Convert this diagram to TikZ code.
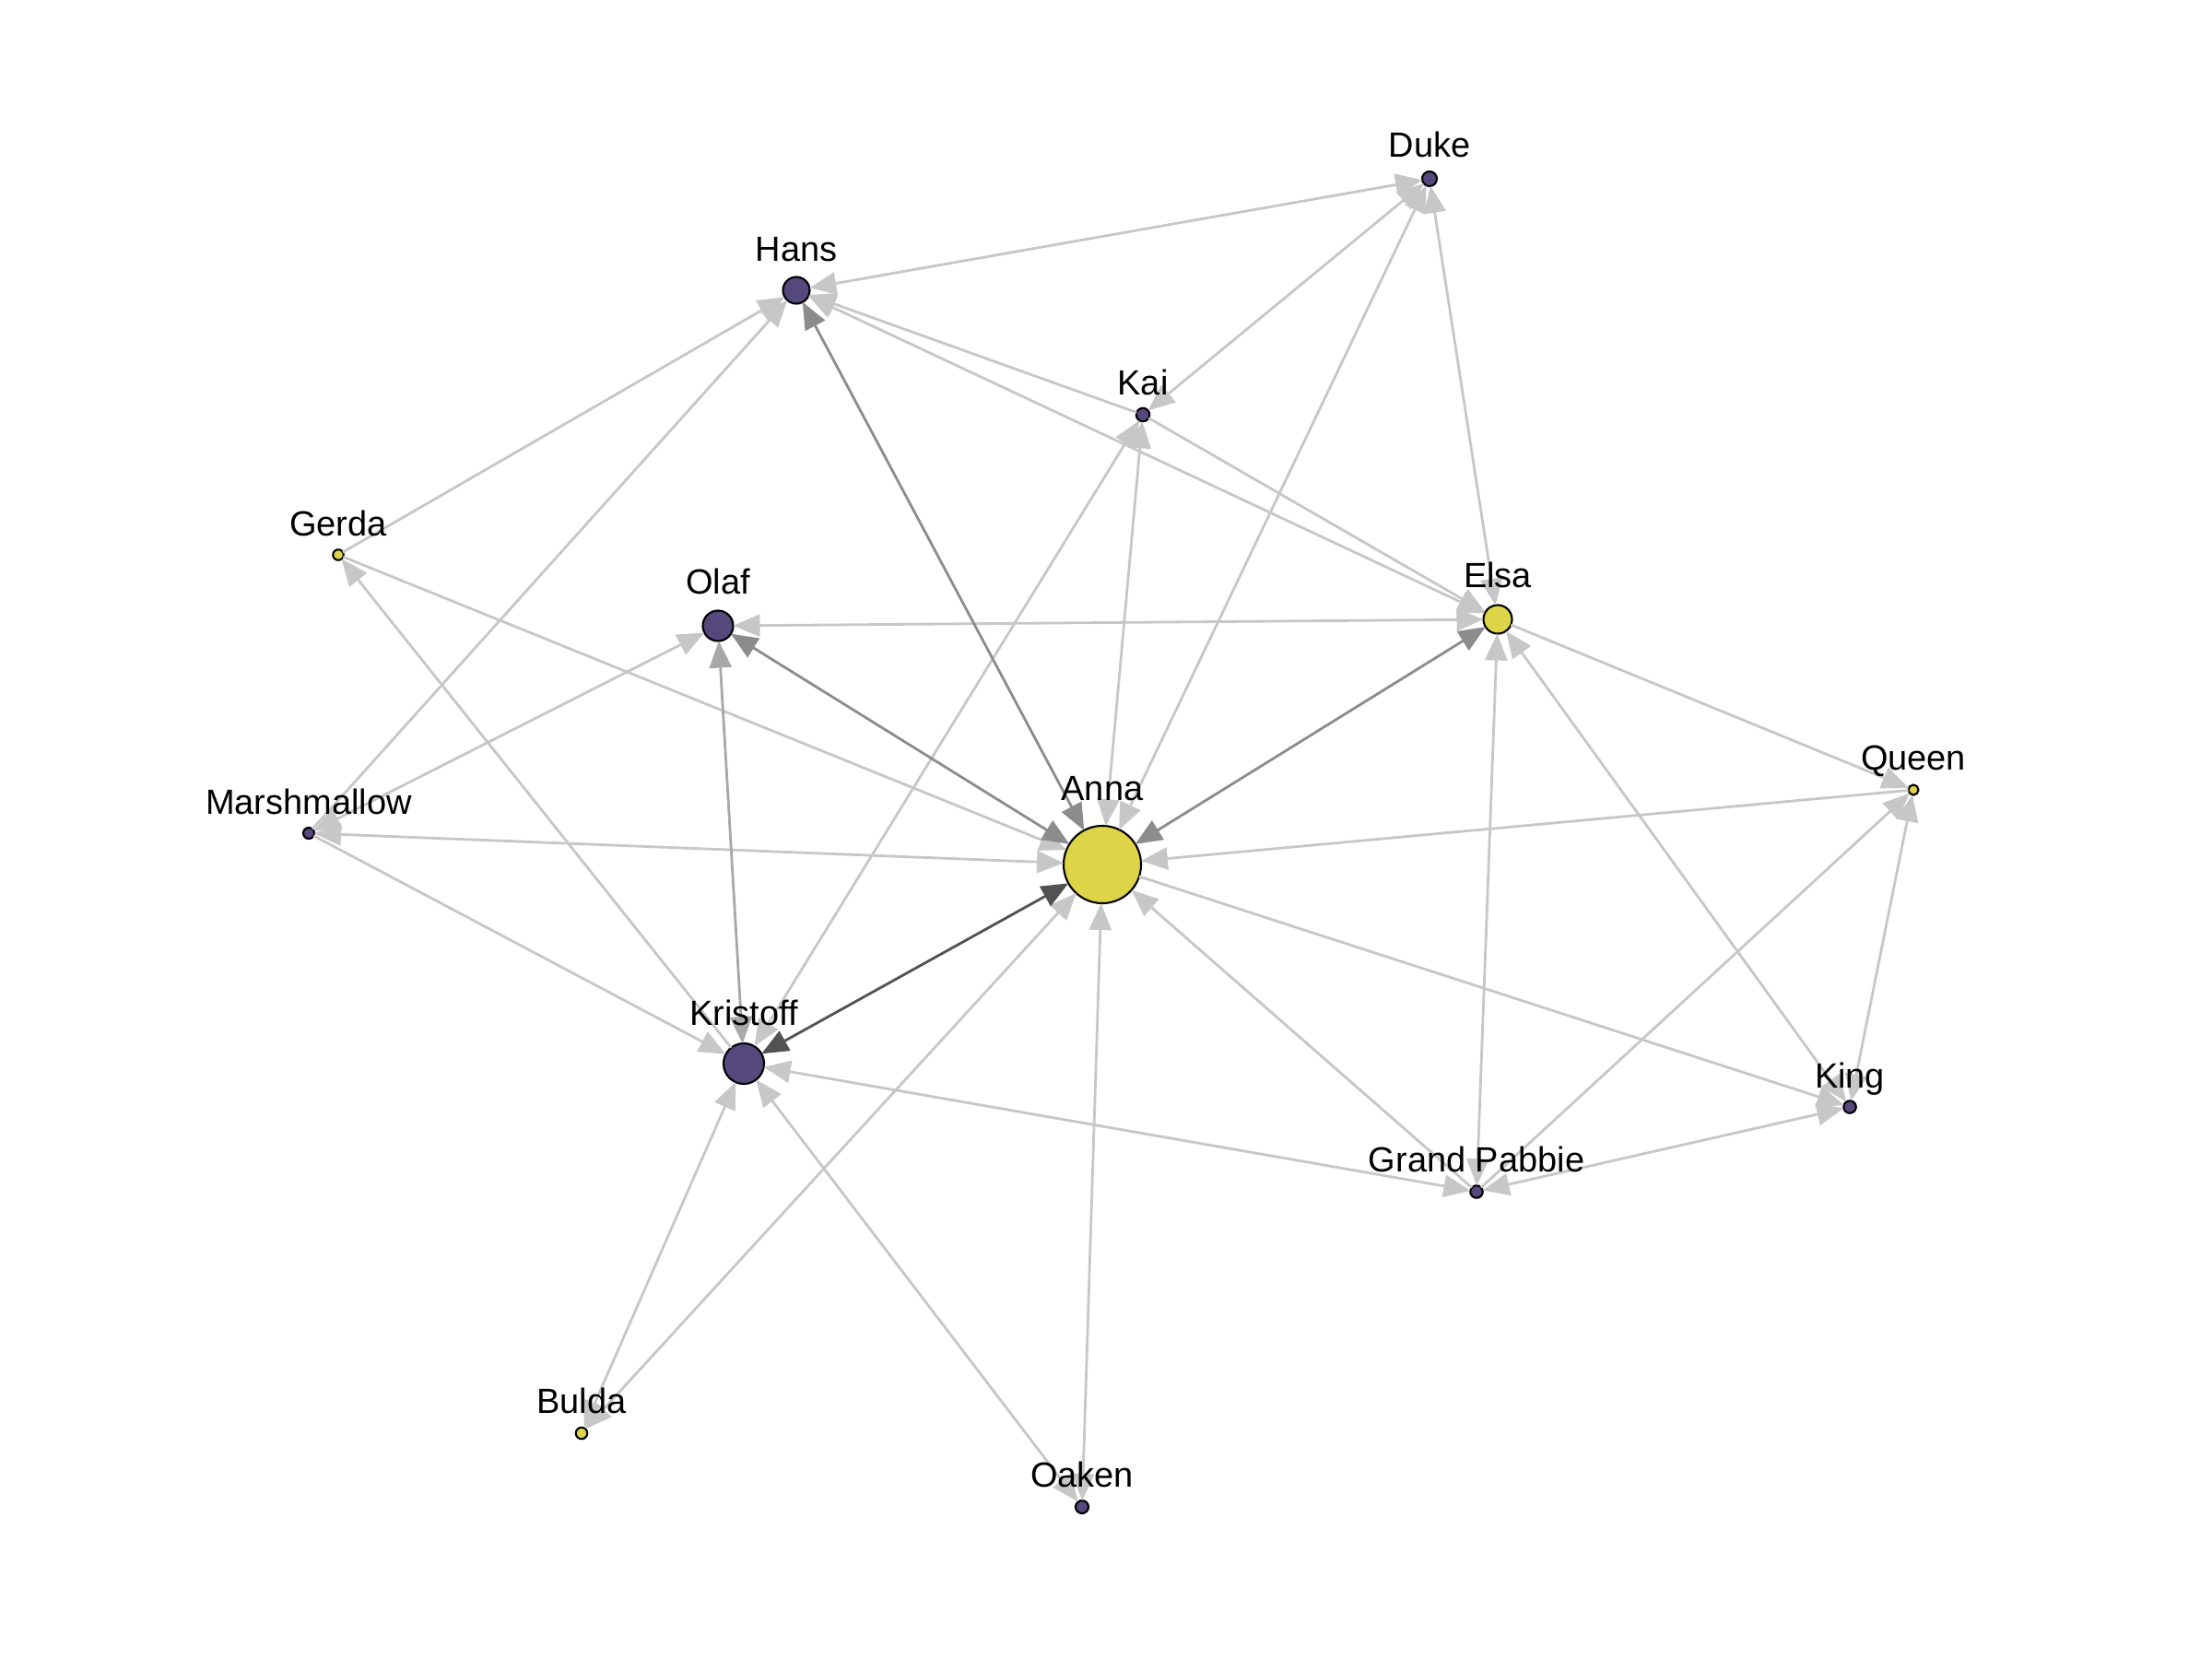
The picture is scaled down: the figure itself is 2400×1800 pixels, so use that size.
\documentclass[tikz,border=0pt]{standalone}
\usepackage{fontspec}
\setmainfont{Liberation Sans}
\usepackage{xcolor}
\usepackage{tikz}
\usetikzlibrary{arrows.meta}
\definecolor{vpurple}{RGB}{85,72,125}
\definecolor{vyellow}{RGB}{222,212,72}
\tikzstyle{char}=[draw=black,circle,line width=0.6pt,inner sep=0,outer sep=0]
\tikzstyle{pur}=[char,fill=vpurple]
\tikzstyle{yel}=[char,fill=vyellow]
\tikzstyle{lbl}=[anchor=base,inner sep=0,font=\fontsize{10.8}{13}\selectfont]
\tikzstyle{tie}=[draw,line width=0.8pt,black!22]
\tikzstyle{tieM}=[tie,black!34]
\tikzstyle{tieD}=[tie,black!45]
\tikzstyle{tieK}=[tie,black!68]

\begin{document}
\begin{tikzpicture}[x=0.01cm,y=-0.01cm,>={Triangle[length=2.9mm,width=2.4mm]}]
\useasboundingbox (0,0) rectangle (2400,1800);

	\node[yel,minimum size=8.4mm] (anna) at (1196,938) {};
	\node[yel,minimum size=3.1mm] (elsa) at (1625,672) {};
	\node[pur,minimum size=4.4mm] (kris) at (807,1154) {};
	\node[pur,minimum size=3.3mm] (olaf) at (779,679) {};
	\node[pur,minimum size=2.9mm] (hans) at (864,315) {};
	\node[pur,minimum size=1.6mm] (duke) at (1551,194) {};
	\node[pur,minimum size=1.45mm] (kai) at (1240,450) {};
	\node[yel,minimum size=1.15mm] (gerda) at (367,602) {};
	\node[pur,minimum size=1.2mm] (marsh) at (335,904) {};
	\node[yel,minimum size=1.1mm] (queen) at (2076,857) {};
	\node[pur,minimum size=1.35mm] (king) at (2007,1201) {};
	\node[pur,minimum size=1.35mm] (pab) at (1602,1293) {};
	\node[yel,minimum size=1.25mm] (bulda) at (631,1555) {};
	\node[pur,minimum size=1.4mm] (oaken) at (1174,1635) {};

% % % light ties
	\path[tie,<->] (hans) -- (duke);
	\path[tie,<->] (kai) -- (duke);
	\path[tie,<->] (anna) -- (duke);
	\path[tie,<->] (elsa) -- (duke);
	\path[tie,->] (gerda) -- (hans);
	\path[tie,->] (marsh) -- (hans);
	\path[tie,->] (kai) -- (hans);
	\path[tie,<->] (elsa) -- (hans);
	\path[tie,->] (kai) -- (elsa);
	\path[tie,<->] (anna) -- (kai);
	\path[tie,<->] (kris) -- (kai);
	\path[tie,->] (gerda) -- (anna);
	\path[tie,->] (kris) -- (gerda);
	\path[tie,<->] (elsa) -- (olaf);
	\path[tie,<->] (marsh) -- (olaf);
	\path[tie,<->] (anna) -- (marsh);
	\path[tie,->] (marsh) -- (kris);
	\path[tie,->] (elsa) -- (queen);
	\path[tie,<->] (pab) -- (elsa);
	\path[tie,<->] (king) -- (elsa);
	\path[tie,->] (queen) -- (anna);
	\path[tie,->] (pab) -- (queen);
	\path[tie,<->] (king) -- (queen);
	\path[tie,->] (anna) -- (king);
	\path[tie,->] (pab) -- (anna);
	\path[tie,<->] (bulda) -- (anna);
	\path[tie,<->] (oaken) -- (anna);
	\path[tie,<->] (pab) -- (kris);
	\path[tie,<->] (bulda) -- (kris);
	\path[tie,<->] (oaken) -- (kris);
	\path[tie,<->] (pab) -- (king);

% % % heavier ties
	\path[tieM,<->] (kris) -- (olaf);
	\path[tieD,<->] (anna) -- (hans);
	\path[tieD,<->] (anna) -- (olaf);
	\path[tieD,<->] (anna) -- (elsa);
	\path[tieK,<->] (anna) -- (kris);

% % % names
	\node[lbl] (annaT) at (1196,868) {Anna};
	\node[lbl] (elsaT) at (1625,637) {Elsa};
	\node[lbl] (krisT) at (807,1112) {Kristoff};
	\node[lbl] (olafT) at (779,644) {Olaf};
	\node[lbl] (hansT) at (864,283) {Hans};
	\node[lbl] (dukeT) at (1551,171) {Duke};
	\node[lbl] (kaiT) at (1240,428) {Kai};
	\node[lbl] (gerdaT) at (367,581) {Gerda};
	\node[lbl] (marshT) at (335,883) {Marshmallow};
	\node[lbl] (queenT) at (2076,835) {Queen};
	\node[lbl] (kingT) at (2007,1180) {King};
	\node[lbl] (pabT) at (1602,1271) {Grand Pabbie};
	\node[lbl] (buldaT) at (631,1533) {Bulda};
	\node[lbl] (oakenT) at (1174,1613) {Oaken};
\end{tikzpicture}
\end{document}
